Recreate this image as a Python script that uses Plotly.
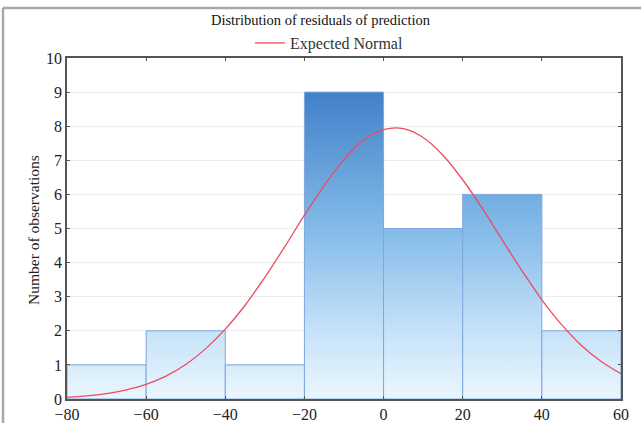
import plotly.graph_objects as go

# Data
bin_edges = [-80, -60, -40, -20, 0, 20, 40, 60]
counts = [1, 2, 1, 9, 5, 6, 2]
# Expected Normal curve
curve_x = [-80, -75, -70, -65, -60, -55, -50, -45, -40, -35, -30, -25, -20, -15, -10, -5, 0, 5, 10, 15, 20, 25, 30, 35, 40, 45, 50, 55, 60]
curve_y = [0.05, 0.09, 0.16, 0.27, 0.43, 0.67, 1.01, 1.47, 2.05, 2.75, 3.57, 4.46, 5.39, 6.26, 7.02, 7.6, 7.9, 7.93, 7.67, 7.15, 6.43, 5.58, 4.66, 3.76, 2.91, 2.18, 1.57, 1.1, 0.74]
x_ticks = [-80, -60, -40, -20, 0, 20, 40, 60]
y_ticks = list(range(0, 11))

FONT = "Liberation Serif"
W, H = 641, 423
L, R, T, B = 67, 20, 58, 24
PW, PH = W - L - R, H - T - B

def px_x(p):
    return (p - L) / PW

def px_y(p):
    return (H - B - p) / PH

fig = go.Figure()

grad_scale = [[0.0, "#ebf6fe"], [0.22, "#c6e2f8"], [0.55, "#84bbe9"], [1.0, "#4281c9"]]
for i, c in enumerate(counts):
    x0, x1 = bin_edges[i], bin_edges[i + 1]
    fig.add_trace(go.Scatter(
        x=[x0, x0, x1, x1, x0], y=[0, c, c, 0, 0],
        mode="lines", fill="toself",
        fillgradient=dict(type="vertical", colorscale=grad_scale, start=0, stop=9),
        line=dict(color="#7ea7de", width=1),
        showlegend=False, hoverinfo="skip",
    ))

fig.add_trace(go.Scatter(
    x=curve_x, y=curve_y, mode="lines", line=dict(color="#ea4d5e", width=1.3, shape="spline"),
    name="Expected Normal",
))

fig.update_layout(
    width=W, height=H,
    margin=dict(l=L, r=R, t=T, b=B, autoexpand=False),
    paper_bgcolor="white", plot_bgcolor="white",
    font=dict(family=FONT, size=14, color="#222"),
    title=dict(text="Distribution of residuals of prediction", x=0.5, xanchor="center",
               y=1 - 20 / H, yanchor="middle", font=dict(family=FONT, size=14.5, color="#111")),
    legend=dict(orientation="h", x=px_x(250), xanchor="left", y=px_y(43), yanchor="middle",
                font=dict(family=FONT, size=16, color="#333"), bgcolor="rgba(0,0,0,0)"),
    showlegend=True,
)
fig.update_xaxes(range=[-80, 60], tickvals=x_ticks, ticktext=[str(v).replace("-", "\u2212") for v in x_ticks],
                 showgrid=False, zeroline=False, showline=True, linecolor="#555", linewidth=1.5,
                 mirror="ticks", ticks="inside", ticklen=3, tickcolor="#555", automargin=False,
                 tickfont=dict(family=FONT, size=16, color="#222"))
fig.update_yaxes(range=[0, 10], tickvals=y_ticks, showgrid=True, gridcolor="#ededed", gridwidth=1,
                 zeroline=False, showline=True, linecolor="#555", linewidth=1.5,
                 mirror="ticks", ticks="inside", ticklen=3, tickcolor="#555", automargin=False,
                 tickfont=dict(family=FONT, size=16, color="#222"))

fig.add_annotation(text="Number of observations", xref="paper", yref="paper", x=px_x(33), y=px_y(230),
                   textangle=-90, showarrow=False, xanchor="center", yanchor="middle",
                   font=dict(family=FONT, size=15.5, color="#222"))

# decorative gray frame (top and left edges)
fig.add_shape(type="line", xref="paper", yref="paper", x0=px_x(3), x1=px_x(645), y0=px_y(8), y1=px_y(8),
              line=dict(color="#a8a8a8", width=2.5))
fig.add_shape(type="line", xref="paper", yref="paper", x0=px_x(3), x1=px_x(3), y0=px_y(430), y1=px_y(8),
              line=dict(color="#a8a8a8", width=2.5))

fig.write_html("out.html", config={"displayModeBar": False},
               post_script="document.body.style.margin='0';document.body.style.overflow='hidden';")
